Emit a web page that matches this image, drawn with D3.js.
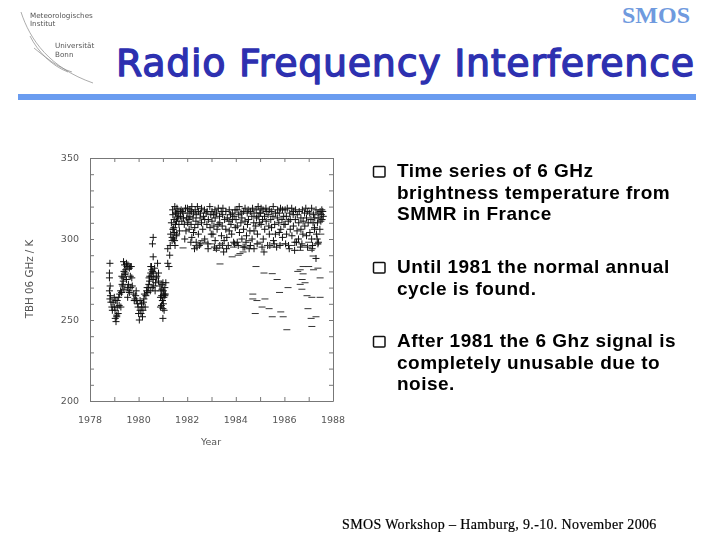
<!DOCTYPE html>
<html><head><meta charset="utf-8">
<script src="https://cdnjs.cloudflare.com/ajax/libs/d3/7.8.5/d3.min.js"></script>
<style>html,body{margin:0;padding:0;background:#fff}svg{display:block}</style>
</head><body><svg id="c" width="720" height="540"></svg>
<script>
const xTickLabels=[1978,1980,1982,1984,1986,1988];
const yTickLabels=[200,250,300,350];
const titleText="Radio Frequency Interference";
const bulletLines=[["Time series of 6 GHz","brightness temperature from","SMMR in France"],["Until 1981 the normal annual","cycle is found."],["After 1981 the 6 Ghz signal is","completely unusable due to","noise."]];

const earlyYears=[1978.82,1978.8,1978.8,1978.83,1978.8,1978.84,1978.82,1978.86,1978.9,1978.92,1978.95,1979.04,1979.07,1979.1,1979.03,1979.12,1979.16,1979.1,1979.0,1979.06,1979.2,1979.22,1979.27,1979.3,1979.35,1979.36,1979.38,1979.42,1979.47,1979.5,1979.56,1979.62,1979.66,1979.7,1979.44,1979.37,1979.5,1979.58,1979.66,1979.72,1979.55,1979.62,1979.68,1979.55,1979.8,1979.85,1979.88,1979.92,1979.96,1979.98,1980.0,1980.03,1980.06,1979.9,1980.1,1980.13,1980.18,1980.2,1980.16,1980.22,1980.3,1980.35,1980.38,1980.42,1980.45,1980.4,1980.46,1980.5,1980.54,1980.58,1980.62,1980.6,1980.66,1980.5,1980.54,1980.62,1980.7,1980.75,1980.78,1980.6,1980.57,1980.6,1980.72,1980.82,1980.88,1981.0,1980.92,1980.95,1980.98,1981.02,1981.05,1981.08,1980.9,1980.94,1981.0,1981.05,1980.96,1981.02,1981.08,1981.0,1980.98,1981.2,1981.2,1981.25,1981.28,1981.3,1981.35];
const earlyTemps=[285,279,276,271,268,265,263,261,258,256,261,251,249,252,256,258,254,253,264,262,259,266,258,267,271,276,286,284,281,285,284,282,283,283,278,274,275,272,277,276,270,267,270,264,266,263,265,262,260,258,254,250,256,268,254,258,256,261,252,263,265,270,267,272,274,270,277,279,281,280,279,275,282,283,277,271,273,277,285,301,297,289,276,274,271,273,268,265,262,260,266,270,264,259,257,256,272,268,265,251,262,294,285,283,290,296,310];
const earlyExtraYears=[1979.0,1979.12,1979.18,1979.26,1979.32,1979.4,1979.46,1979.52,1979.4,1979.31,1979.6,1979.74,1979.82,1980.06,1980.12,1980.24,1980.27,1980.33,1980.43,1980.48,1980.53,1980.56,1980.68,1980.82,1980.9,1980.96,1981.04,1981.1,1981.12];
const earlyExtraTemps=[258,262,264,268,272,269,279,283,280,277,268,271,262,262,260,266,258,268,276,268,283,270,268,279,258,269,264,266,273];
const band81Years=[1981.4,1981.32,1981.38,1981.44,1981.5,1981.42,1981.52,1981.46,1981.58,1981.62,1981.68,1981.55,1981.65,1981.72,1981.78,1981.85,1981.9,1981.95,1981.72,1981.8,1981.88,1981.48,1981.42,1981.55,1981.6,1981.38,1981.45,1981.52,1981.49,1981.56,1981.41,1981.47,1981.57,1981.66,1981.75,1981.83,1981.93,1981.98];
const band81Temps=[318,303,299,300,296,306,316,312,319,317,305,302,314,317,311,313,300,305,314,317,309,299,306,316,313,301,307,309,320,311,315,304,303,309,318,316,319,313];

const band82Years=[1982.01,1982.02,1982.03,1982.07,1982.08,1982.11,1982.11,1982.16,1982.17,1982.19,1982.19,1982.24,1982.26,1982.26,1982.31,1982.33,1982.36,1982.37,1982.37,1982.42,1982.44,1982.46,1982.47,1982.53,1982.55,1982.56,1982.59,1982.59,1982.64,1982.67,1982.71,1982.72,1982.72,1982.78,1982.81,1982.82,1982.86,1982.87,1982.93,1982.94,1982.97,1982.99];
const band82Temps=[319,310,316,312,306,318,314,309,317,301,320,313,304,316,307,318,311,298,315,320,309,303,317,313,316,297,310,319,306,314,318,312,300,316,309,317,294,312,320,307,315,303];
const band83Years=[1983.02,1983.02,1983.06,1983.09,1983.1,1983.14,1983.15,1983.15,1983.21,1983.23,1983.27,1983.28,1983.33,1983.34,1983.34,1983.4,1983.41,1983.44,1983.46,1983.47,1983.52,1983.54,1983.59,1983.59,1983.63,1983.65,1983.69,1983.72,1983.73,1983.73,1983.78,1983.8,1983.83,1983.86,1983.86,1983.91,1983.93,1983.97,1983.98];
const band83Temps=[311,317,303,315,308,318,313,299,316,306,309,319,314,296,310,317,302,308,315,319,299,312,317,306,301,313,296,311,318,305,315,309,303,316,312,298,314,318,307];
const band84Years=[1984.01,1984.05,1984.06,1984.06,1984.12,1984.14,1984.15,1984.21,1984.22,1984.25,1984.25,1984.31,1984.32,1984.37,1984.38,1984.38,1984.44,1984.47,1984.48,1984.51,1984.52,1984.58,1984.6,1984.6,1984.66,1984.67,1984.69,1984.74,1984.75,1984.75,1984.82,1984.84,1984.85,1984.89,1984.92,1984.92,1984.97,1984.99];
const band84Temps=[312,318,308,298,315,320,304,310,316,300,313,317,306,295,311,319,302,316,309,318,312,305,317,296,314,300,319,310,316,305,308,318,313,303,320,314,310,316];
const band85Years=[1985.02,1985.04,1985.04,1985.1,1985.12,1985.13,1985.18,1985.19,1985.24,1985.25,1985.25,1985.31,1985.33,1985.36,1985.38,1985.38,1985.44,1985.46,1985.47,1985.53,1985.54,1985.55,1985.6,1985.63,1985.63,1985.68,1985.71,1985.72,1985.77,1985.79,1985.79,1985.84,1985.85,1985.9,1985.92,1985.92,1985.97,1985.98];
const band85Temps=[316,309,319,312,318,300,314,306,319,311,317,296,315,308,318,303,312,317,307,314,320,299,309,316,303,295,313,318,310,316,304,319,306,312,318,301,314,309];
const band86Years=[1986.03,1986.03,1986.08,1986.09,1986.12,1986.16,1986.17,1986.22,1986.24,1986.24,1986.3,1986.31,1986.36,1986.37,1986.37,1986.43,1986.45,1986.46,1986.52,1986.53,1986.58,1986.59,1986.61,1986.66,1986.68,1986.68,1986.74,1986.76,1986.77,1986.83,1986.84,1986.88,1986.91,1986.91,1986.96,1986.98];
const band86Temps=[318,309,314,303,319,311,296,316,306,312,319,302,315,308,317,298,312,318,305,315,300,310,317,295,313,306,318,303,311,316,308,319,302,313,317,310];
const band87Years=[1987.04,1987.05,1987.09,1987.12,1987.12,1987.18,1987.2,1987.24,1987.25,1987.3,1987.32,1987.36,1987.38,1987.38,1987.42,1987.46,1987.47,1987.5,1987.52,1987.54,1987.55,1987.58,1987.6,1987.3,1987.16,1987.35,1987.24,1987.4];
const band87Temps=[316,304,312,319,300,310,315,306,313,318,303,310,316,297,313,306,317,311,315,318,312,317,314,288,296,300,307,298];
const extraPlusYears=[1985.16,1984.75,1984.3,1983.5,1983.2,1982.4,1982.3,1986.42,1982.15,1982.5,1982.85,1983.12,1983.45,1983.62,1983.95,1984.1,1984.42,1984.55,1984.88,1985.08,1985.4,1985.58,1985.82,1986.05,1986.2,1986.5,1986.72,1986.95,1987.14];
const extraPlusTemps=[292,294,295,292,294,295,294,293,298,296,297,295,296,294,297,296,298,294,297,295,296,297,296,297,294,298,297,295,294];

const dashYears=[1981.83,1983.35,1984.83,1985.16,1985.5,1985.7,1986.15,1985.8,1984.7,1984.7,1984.87,1985.2,1985.08,1985.37,1984.8,1985.5,1985.85,1985.95,1986.1,1987.13,1987.3,1987.1,1986.97,1987.47,1987.13,1986.93,1986.72,1986.85,1986.65,1986.73,1987.47,1986.77,1986.55,1986.65,1986.77,1987,1987.2,1987.38,1987.18,1987.1,1986.65,1987.35,1984.17,1983.85,1983.2,1983.35,1984.3,1984.1,1983.4,1983.9,1983.3,1982.6,1982.35,1982.95,1985.3,1985.45,1985.9,1986.3,1986.85,1987,1987.5,1984.55,1985.0,1982.75,1983.55,1984.9];
const dashTemps=[294.5,284.6,283,279,278.6,275,270,267,266,263,262,263,258,257,254,252,255,252,244,246,252,251,257,264,264,265,269,273,272,275,276,278.5,280,281,283,283,281,282,289.5,293,293,297,291,289,293,294.5,292,290,297,295,296,299,296,297,296,295,297,296,296,298,303,299,298,298,296,297];

const svg=d3.select("#c");
const x=d3.scaleLinear().domain([1978,1988]).range([90,333]);
const y=d3.scaleLinear().domain([200,350]).range([401,158]);
const axisColor="#777", labelColor="#555", font="'DejaVu Sans',sans-serif";

svg.append("text").attr("x",690).attr("y",23).attr("text-anchor","end").attr("font-family","'Liberation Serif',serif").attr("font-weight","bold").attr("font-size",24).attr("fill","#6f9ade").text("SMOS");
svg.append("text").attr("x",116).attr("y",76).attr("font-family","'DejaVu Sans',sans-serif").attr("font-size",38).attr("letter-spacing",0.68).attr("stroke","#2d30b0").attr("stroke-width",1.3).attr("stroke-linejoin","round").attr("fill","#2d30b0").text(titleText);
svg.append("rect").attr("x",18).attr("y",94).attr("width",678).attr("height",6).attr("fill","#6a9cf0");

const logo=svg.append("g").attr("fill","none").attr("stroke","#888").attr("stroke-width",.7);
logo.append("path").attr("d","M21 12C30 40 50 68 93 83");
logo.append("path").attr("d","M30 36C38 52 52 66 68 72");
logo.append("path").attr("d","M34 48C44 56 58 68 72 72");
const logoText=[["Meteorologisches",30,18],["Institut",30,26],["Universität",55,48],["Bonn",55,57]];
svg.append("g").attr("style","filter:blur(0.35px)").selectAll("text").data(logoText).join("text").attr("x",d=>d[1]).attr("y",d=>d[2]).attr("font-family",font).attr("font-size",7.2).attr("fill","#555").text(d=>d[0]);

const plot=svg.append("g").attr("style","filter:blur(0.4px)");
const minorX=d3.range(1978,1989), minorY=d3.range(200,351,10);
function styleAxis(g){g.selectAll("path.domain").attr("stroke",axisColor);g.selectAll("line").attr("stroke",axisColor);g.selectAll("text").remove();}
plot.append("g").attr("transform","translate(0,401)").call(d3.axisBottom(x).tickValues(minorX).tickSize(-4).tickSizeOuter(0)).call(styleAxis);
plot.append("g").attr("transform","translate(0,158)").call(d3.axisTop(x).tickValues(minorX).tickSize(-4).tickSizeOuter(0)).call(styleAxis);
plot.append("g").attr("transform","translate(90,0)").call(d3.axisLeft(y).tickValues(minorY).tickSize(-4).tickSizeOuter(0)).call(styleAxis);
plot.append("g").attr("transform","translate(333,0)").call(d3.axisRight(y).tickValues(minorY).tickSize(-4).tickSizeOuter(0)).call(styleAxis);
plot.append("g").selectAll("text").data(xTickLabels).join("text").attr("x",d=>x(d)).attr("y",423).attr("text-anchor","middle").attr("font-family",font).attr("font-size",9.5).attr("fill",labelColor).text(d=>d);
plot.append("g").selectAll("text").data(yTickLabels).join("text").attr("x",79).attr("y",d=>y(d)+3).attr("text-anchor","end").attr("font-family",font).attr("font-size",9.5).attr("fill",labelColor).text(d=>d);
plot.append("text").attr("x",211).attr("y",445).attr("text-anchor","middle").attr("font-family",font).attr("font-size",9.5).attr("fill",labelColor).text("Year");
plot.append("text").attr("transform","translate(33,279) rotate(-90)").attr("text-anchor","middle").attr("font-family",font).attr("font-size",10.3).attr("fill",labelColor).text("TBH 06 GHz / K");

const plusData=d3.merge([
 d3.zip(earlyYears,earlyTemps),d3.zip(earlyExtraYears,earlyExtraTemps),d3.zip(band81Years,band81Temps),d3.zip(band82Years,band82Temps),d3.zip(band83Years,band83Temps),
 d3.zip(band84Years,band84Temps),d3.zip(band85Years,band85Temps),d3.zip(band86Years,band86Temps),
 d3.zip(band87Years,band87Temps),d3.zip(extraPlusYears,extraPlusTemps)]);
plot.append("g").attr("stroke","#111").attr("stroke-width",1).attr("fill","none").selectAll("path").data(plusData).join("path")
 .attr("d",d=>{const px=x(d[0]),py=y(d[1]);const p=d3.path();p.moveTo(px-3.5,py);p.lineTo(px+3.5,py);p.moveTo(px,py-3.5);p.lineTo(px,py+3.5);return p.toString();});
const dashData=d3.zip(dashYears,dashTemps);
plot.append("g").attr("stroke","#333").attr("stroke-width",1).selectAll("line").data(dashData).join("line")
 .attr("x1",d=>x(d[0])-3.5).attr("x2",d=>x(d[0])+3.5).attr("y1",d=>y(d[1])).attr("y2",d=>y(d[1]));

const blockTops=[177,273,347], lineGap=21.5;
bulletLines.forEach((lines,i)=>{
 svg.append("rect").attr("x",373.5).attr("y",blockTops[i]-10.5).attr("width",11.5).attr("height",10.5).attr("rx",1).attr("fill","#fff").attr("stroke","#111").attr("stroke-width",1.5);
 lines.forEach((t,j)=>svg.append("text").attr("x",397).attr("y",blockTops[i]+j*lineGap).attr("font-family","'Liberation Sans',sans-serif").attr("font-weight","bold").attr("font-size",19).attr("letter-spacing",0.5).attr("fill","#000").text(t));
});
svg.append("text").attr("x",342).attr("y",529).attr("font-family","'Liberation Serif',serif").attr("font-size",14).attr("letter-spacing",0.35).attr("stroke","#000").attr("stroke-width",.2).attr("fill","#000").text("SMOS Workshop – Hamburg, 9.-10. November 2006");
</script></body></html>
